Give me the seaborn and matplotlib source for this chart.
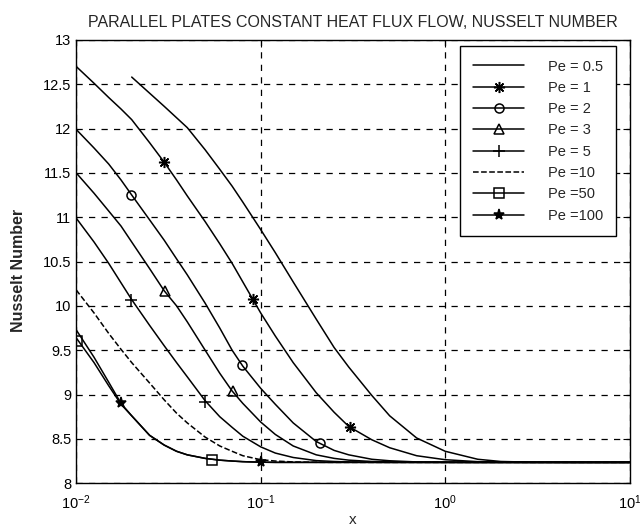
import seaborn as sns
import matplotlib.pyplot as plt
import pandas as pd

# Nusselt number curves (x on a log axis)
x_grid = [0.01, 0.0125, 0.015, 0.0175, 0.02, 0.025, 0.03, 0.035, 0.04, 0.05, 0.06, 0.07, 0.08, 0.1,
          0.12, 0.15, 0.2, 0.25, 0.3, 0.4, 0.5, 0.7, 1.0, 1.5, 2.0, 3.0, 5.0, 10.0]

pe05_x = [0.02, 0.03, 0.04, 0.05, 0.06, 0.07, 0.08, 0.1, 0.12, 0.15, 0.2, 0.25, 0.3, 0.4, 0.5,
          0.7, 1.0, 1.5, 2.0, 3.0, 5.0, 10.0]
pe05_y = [12.58, 12.25, 12.01, 11.76, 11.54, 11.35, 11.17, 10.86, 10.60, 10.27, 9.85, 9.53, 9.31,
          8.99, 8.76, 8.51, 8.36, 8.27, 8.245, 8.237, 8.235, 8.235]
pe1_y = [12.70, 12.51, 12.35, 12.22, 12.10, 11.84, 11.62, 11.42, 11.24, 10.95, 10.70, 10.48, 10.27,
         9.92, 9.66, 9.36, 9.02, 8.80, 8.64, 8.49, 8.40, 8.31, 8.265, 8.243, 8.237, 8.235, 8.235, 8.235]
pe2_y = [11.99, 11.78, 11.60, 11.42, 11.25, 10.97, 10.74, 10.53, 10.35, 10.03, 9.75, 9.50, 9.32,
         9.07, 8.89, 8.68, 8.47, 8.37, 8.32, 8.27, 8.253, 8.24, 8.237, 8.235, 8.235, 8.235, 8.235, 8.235]
pe3_y = [11.50, 11.27, 11.07, 10.90, 10.72, 10.42, 10.17, 10.00, 9.82, 9.50, 9.24, 9.04, 8.90,
         8.69, 8.55, 8.42, 8.32, 8.28, 8.26, 8.245, 8.24, 8.236, 8.235, 8.235, 8.235, 8.235, 8.235, 8.235]
pe5_y = [10.99, 10.72, 10.48, 10.26, 10.07, 9.78, 9.55, 9.36, 9.20, 8.93, 8.75, 8.63, 8.53,
         8.41, 8.34, 8.29, 8.255, 8.245, 8.24, 8.236, 8.235, 8.235, 8.235, 8.235, 8.235, 8.235, 8.235, 8.235]
pe10_y = [10.18, 9.92, 9.69, 9.51, 9.36, 9.13, 8.94, 8.79, 8.68, 8.52, 8.42, 8.36, 8.31,
          8.265, 8.25, 8.24, 8.236, 8.235, 8.235, 8.235, 8.235, 8.235, 8.235, 8.235, 8.235, 8.235, 8.235, 8.235]
pe50_y = [9.64, 9.36, 9.10, 8.89, 8.76, 8.54, 8.43, 8.36, 8.32, 8.28, 8.26, 8.25, 8.243,
          8.237, 8.235, 8.235, 8.235, 8.235, 8.235, 8.235, 8.235, 8.235, 8.235, 8.235, 8.235, 8.235, 8.235, 8.235]
pe100_y = [9.73, 9.42, 9.14, 8.90, 8.76, 8.54, 8.43, 8.36, 8.32, 8.28, 8.26, 8.25, 8.243,
           8.237, 8.235, 8.235, 8.235, 8.235, 8.235, 8.235, 8.235, 8.235, 8.235, 8.235, 8.235, 8.235, 8.235, 8.235]

# marker positions along the curves
pe1_mx, pe1_my = [0.030, 0.0906, 0.306], [11.62, 10.08, 8.63]
pe2_mx, pe2_my = [0.0199, 0.0795, 0.21], [11.25, 9.33, 8.45]
pe3_mx, pe3_my = [0.0302, 0.0705], [10.17, 9.04]
pe5_mx, pe5_my = [0.0199, 0.0498], [10.07, 8.92]
pe50_mx, pe50_my = [0.0101, 0.0542], [9.60, 8.26]
pe100_mx, pe100_my = [0.0174, 0.1], [8.90, 8.24]

labels = ['Pe = 0.5', 'Pe = 1', 'Pe = 2', 'Pe = 3', 'Pe = 5', 'Pe =10', 'Pe =50', 'Pe =100']

sns.set_style('white')
plt.rcParams['font.family'] = ['Liberation Sans', 'DejaVu Sans']
plt.rcParams['mathtext.fontset'] = 'custom'
plt.rcParams['mathtext.rm'] = 'Liberation Sans'
plt.rcParams['mathtext.it'] = 'Liberation Sans'

fig = plt.figure(figsize=(6.4, 5.31), dpi=100)
ax = fig.add_axes([0.119, 0.090, 0.865, 0.835])

series = [
    (pe05_x, pe05_y, None, None, None, '-'),
    (x_grid, pe1_y, pe1_mx, pe1_my, (8, 2, 0), '-'),
    (x_grid, pe2_y, pe2_mx, pe2_my, 'o', '-'),
    (x_grid, pe3_y, pe3_mx, pe3_my, '^', '-'),
    (x_grid, pe5_y, pe5_mx, pe5_my, '+', '-'),
    (x_grid, pe10_y, None, None, None, '--'),
    (x_grid, pe50_y, pe50_mx, pe50_my, 's', '-'),
    (x_grid, pe100_y, pe100_mx, pe100_my, '*', '-'),
]

handles = []
for (xs, ys, mx, my, mk, ls), lab in zip(series, labels):
    df = pd.DataFrame({'x': xs, 'y': ys})
    sns.lineplot(data=df, x='x', y='y', ax=ax, color='black', lw=1.1,
                 linestyle=ls, estimator=None, sort=True)
    ms = 8 if mk in ['*', (8, 2, 0), '+'] else 6.5
    fc = 'black' if mk in ['*', (8, 2, 0)] else 'none'
    if mk is not None:
        dm = pd.DataFrame({'x': mx, 'y': my})
        ax.plot(dm['x'], dm['y'], linestyle='none', marker=mk, ms=ms,
                mfc=fc, mec='black', mew=1.1)
    h, = ax.plot([], [], color='black', lw=1.1, linestyle=ls, marker=mk,
                 ms=ms, mfc=fc, mec='black', mew=1.1, label=lab)
    handles.append(h)

ax.set_xscale('log')
ax.set_xlim(0.01, 10)
ax.set_ylim(8, 13)
ax.minorticks_off()
ax.set_yticks([8, 8.5, 9, 9.5, 10, 10.5, 11, 11.5, 12, 12.5, 13])
ax.set_yticklabels(['8', '8.5', '9', '9.5', '10', '10.5', '11', '11.5', '12', '12.5', '13'])
ax.grid(True, which='major', color='black', linestyle=(0, (5, 5)), lw=0.9)
ax.tick_params(which='both', direction='in', top=True, right=True, labelsize=10.5,
               colors='black', length=5)
ax.tick_params(axis='x', pad=7)
for sp in ax.spines.values():
    sp.set_color('black')
    sp.set_linewidth(1.0)

ax.set_title('PARALLEL PLATES CONSTANT HEAT FLUX FLOW, NUSSELT NUMBER', fontsize=11.5, pad=9)
ax.set_xlabel('x', fontsize=11, labelpad=1)
ax.set_ylabel('Nusselt Number', fontsize=11.5, fontweight='bold')
ax.yaxis.set_label_coords(-0.09, 0.48)

leg = ax.legend(handles=handles, loc='upper right', bbox_to_anchor=(0.975, 0.985),
                borderaxespad=0, fontsize=10.5, handlelength=3.5, handletextpad=1.6,
                labelspacing=0.5, borderpad=0.9, frameon=True, fancybox=False)
leg.get_frame().set_edgecolor('black')
leg.get_frame().set_linewidth(1.0)
leg.get_frame().set_alpha(1)

fig.savefig('out.png', dpi=100)
